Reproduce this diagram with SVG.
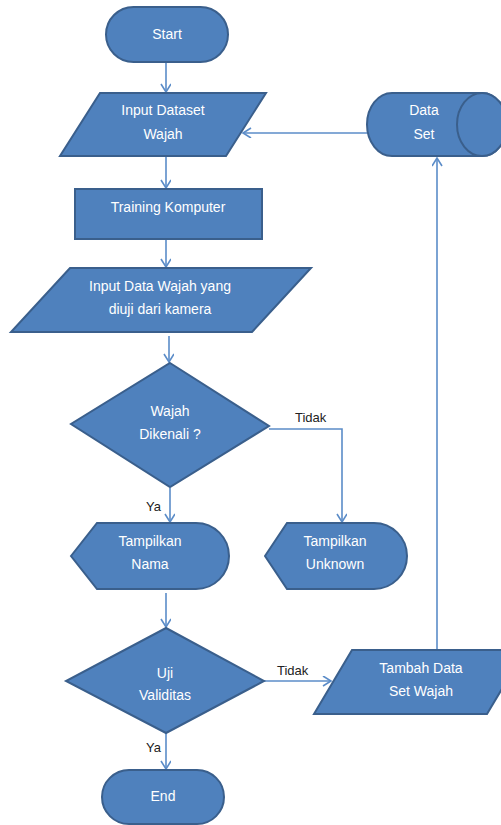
<svg xmlns="http://www.w3.org/2000/svg" width="501" height="825" viewBox="0 0 501 825">
<defs>
<style>
.n{fill:#4F81BD;stroke:#3A5F8C;stroke-width:2}
.t{fill:#fff;font-family:"Liberation Sans",Arial,sans-serif;font-size:14px;text-anchor:middle}
.l{fill:#222;font-family:"Liberation Sans",Arial,sans-serif;font-size:13px}
.c{fill:none;stroke:#5B8CC8;stroke-width:1.6}
</style>
<marker id="a" markerWidth="12" markerHeight="12" refX="9" refY="5" orient="auto" markerUnits="userSpaceOnUse">
<path d="M1,0 L9,5 L1,10" fill="none" stroke="#5B8CC8" stroke-width="1.6"/>
</marker>
</defs>
<rect width="501" height="825" fill="#fff"/>
<g id="connectors">
<line class="c" x1="166" y1="63" x2="166" y2="92" marker-end="url(#a)"/>
<line class="c" x1="367" y1="133" x2="243" y2="133" marker-end="url(#a)"/>
<line class="c" x1="166" y1="157" x2="166" y2="188" marker-end="url(#a)"/>
<line class="c" x1="166" y1="240" x2="166" y2="267" marker-end="url(#a)"/>
<line class="c" x1="169" y1="336" x2="169" y2="362" marker-end="url(#a)"/>
<polyline class="c" points="269,429 342,429 342,522" marker-end="url(#a)"/>
<line class="c" x1="170" y1="488" x2="170" y2="522" marker-end="url(#a)"/>
<line class="c" x1="166" y1="593" x2="166" y2="627" marker-end="url(#a)"/>
<line class="c" x1="264" y1="681" x2="331" y2="681" marker-end="url(#a)"/>
<line class="c" x1="437" y1="650" x2="437" y2="158" marker-end="url(#a)"/>
<line class="c" x1="166" y1="733" x2="166" y2="769" marker-end="url(#a)"/>
<text class="l" x="295" y="422">Tidak</text>
<text class="l" x="146" y="511">Ya</text>
<text class="l" x="277" y="675">Tidak</text>
<text class="l" x="146" y="752">Ya</text>
</g>
<g id="start">
<rect class="n" x="106" y="7" width="122" height="55" rx="27.5"/>
<text class="t" x="167" y="39">Start</text>
</g>
<g id="input-dataset">
<polygon class="n" points="100,93 266,93 226,156 60,156"/>
<text class="t" x="163" y="115">Input Dataset</text>
<text class="t" x="163" y="139">Wajah</text>
</g>
<g id="data-set">
<path class="n" d="M392,93 L482,93 A25,31.5 0 0 1 482,156 L392,156 A25,31.5 0 0 1 392,93 Z"/>
<ellipse class="n" cx="482" cy="124.5" rx="25" ry="31.5"/>
<text class="t" x="424" y="115">Data</text>
<text class="t" x="424" y="139">Set</text>
</g>
<g id="training">
<rect class="n" x="75" y="189" width="187" height="50"/>
<text class="t" x="168" y="212">Training Komputer</text>
</g>
<g id="input-wajah">
<polygon class="n" points="70,268 311,268 252,332 11,332"/>
<text class="t" x="160" y="291">Input Data Wajah yang</text>
<text class="t" x="160" y="314">diuji dari kamera</text>
</g>
<g id="dikenali">
<polygon class="n" points="170,363 269,426 170,487 71,424"/>
<text class="t" x="170" y="416">Wajah</text>
<text class="t" x="170" y="439">Dikenali ?</text>
</g>
<g id="tampilkan-nama">
<path class="n" d="M71,556 L97,523 L196,523 A33,33 0 0 1 196,589 L97,589 Z"/>
<text class="t" x="150" y="546">Tampilkan</text>
<text class="t" x="150" y="569">Nama</text>
</g>
<g id="tampilkan-unknown">
<path class="n" d="M265,556 L287,523 L374,523 A33,33 0 0 1 374,589 L287,589 Z"/>
<text class="t" x="335" y="546">Tampilkan</text>
<text class="t" x="335" y="569">Unknown</text>
</g>
<g id="uji">
<polygon class="n" points="166,628 264,681 166,733 66,681"/>
<text class="t" x="165" y="678">Uji</text>
<text class="t" x="165" y="700">Validitas</text>
</g>
<g id="tambah">
<polygon class="n" points="352,650 525,650 487,714 314,714"/>
<text class="t" x="421" y="673">Tambah Data</text>
<text class="t" x="421" y="696">Set Wajah</text>
</g>
<g id="end">
<rect class="n" x="102" y="770" width="122" height="54" rx="27"/>
<text class="t" x="163" y="801">End</text>
</g>
</svg>
